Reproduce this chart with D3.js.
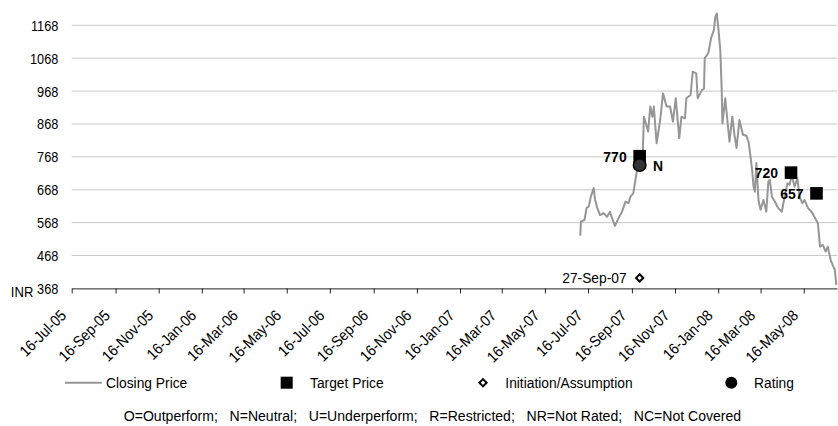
<!DOCTYPE html>
<html>
<head>
<meta charset="utf-8">
<script src="https://cdn.jsdelivr.net/npm/d3@7"></script>
<style>
  html, body { margin: 0; padding: 0; background: #fff; }
  svg { display: block; }
  text { font-family: "Liberation Sans", Arial, sans-serif; fill: #000; }
</style>
</head>
<body>
<svg id="chart" width="838" height="426"></svg>
<script>
// ---- data ----
const priceDates = [
  "2007-07-05","2007-07-06","2007-07-11","2007-07-14","2007-07-17","2007-07-20","2007-07-24","2007-07-26","2007-07-29",
  "2007-08-02","2007-08-07","2007-08-12","2007-08-16","2007-08-20","2007-08-23","2007-08-28",
  "2007-09-02","2007-09-07","2007-09-11","2007-09-14","2007-09-18","2007-09-21","2007-09-24","2007-09-27",
  "2007-10-01","2007-10-02","2007-10-03","2007-10-06","2007-10-09","2007-10-12","2007-10-15","2007-10-17","2007-10-21","2007-10-26","2007-10-30",
  "2007-11-04","2007-11-09","2007-11-13","2007-11-17","2007-11-22","2007-11-25","2007-11-30",
  "2007-12-02","2007-12-08","2007-12-11","2007-12-16","2007-12-18","2007-12-24","2007-12-27","2007-12-28",
  "2008-01-02","2008-01-06","2008-01-10","2008-01-12","2008-01-14","2008-01-16","2008-01-19","2008-01-21","2008-01-22","2008-01-26","2008-01-28",
  "2008-02-01","2008-02-05","2008-02-08","2008-02-11","2008-02-15","2008-02-20","2008-02-25","2008-02-28",
  "2008-03-02","2008-03-04","2008-03-06","2008-03-08","2008-03-10","2008-03-13","2008-03-16","2008-03-20","2008-03-24","2008-03-27","2008-03-29",
  "2008-04-01","2008-04-05","2008-04-10","2008-04-15","2008-04-19","2008-04-23","2008-04-26","2008-04-29",
  "2008-05-03","2008-05-07","2008-05-10","2008-05-14","2008-05-17","2008-05-22","2008-05-27","2008-05-31",
  "2008-06-05","2008-06-08","2008-06-12","2008-06-16","2008-06-19","2008-06-23","2008-06-26","2008-06-29","2008-07-01"
];
const priceValues = [
  528,571,576,613,617,647,673,637,613,
  591,597,586,601,576,558,581,
  601,632,627,647,657,698,738,743,
  753,819,890,868,845,921,890,921,809,880,961,
  921,921,875,946,825,890,885,
  946,956,1027,1022,946,971,976,1068,
  1083,1129,1154,1194,1204,1164,1093,971,870,946,901,
  814,890,835,795,880,835,832,813,
  764,728,677,662,749,637,607,637,601,693,698,
  647,632,612,601,647,688,683,713,
  677,703,647,627,637,612,601,586,
  566,495,500,480,495,455,439,424,379
];
const targetDates = ["2007-09-27","2008-04-28","2008-06-03"];
const targetValues = [770, 720, 657];
const targetLabels = ["770", "720", "657"];
const ratingDates = ["2007-09-27"];
const ratingValues = [743];
const ratingLabels = ["N"];
const initDates = ["2007-09-27"];
const initValues = [400];
const initLabels = ["27-Sep-07"];
const xTickDates = [
  "2005-07-16","2005-09-16","2005-11-16","2006-01-16","2006-03-16","2006-05-16",
  "2006-07-16","2006-09-16","2006-11-16","2007-01-16","2007-03-16","2007-05-16",
  "2007-07-16","2007-09-16","2007-11-16","2008-01-16","2008-03-16","2008-05-16"
];
const yTicks = [368, 468, 568, 668, 768, 868, 968, 1068, 1168];
const currencyLabel = "INR";
const legendLabels = ["Closing Price", "Target Price", "Initiation/Assumption", "Rating"];
const footnote = "O=Outperform;   N=Neutral;   U=Underperform;   R=Restricted;   NR=Not Rated;   NC=Not Covered";

// ---- layout ----
const parse = d3.utcParse("%Y-%m-%d");
const fmt = d3.utcFormat("%d-%b-%y");
const svg = d3.select("#chart");
const plotL = 71.7, plotR = 837, plotT = 25.3, plotB = 288.4;
const FS = 15.5;

// narrow-font emulation: compress each text horizontally
function squeeze(sel, f) {
  sel.each(function () {
    const w = this.getComputedTextLength();
    this.setAttribute("textLength", (w * f).toFixed(2));
    this.setAttribute("lengthAdjust", "spacingAndGlyphs");
  });
}

const x = d3.scaleUtc()
  .domain([parse("2005-07-16"), parse("2008-07-02")])
  .range([plotL, plotR]);
const y = d3.scaleLinear().domain([368, 1168]).range([plotB, plotT]);

// gridlines
svg.append("g").selectAll("line")
  .data(yTicks.filter(v => v !== 368))
  .join("line")
  .attr("x1", plotL).attr("x2", plotR)
  .attr("y1", d => y(d)).attr("y2", d => y(d))
  .attr("stroke", "#c8c8c8").attr("stroke-width", 1);

// y labels
const yg = svg.append("g").attr("transform", `translate(${plotL},0)`)
  .call(d3.axisLeft(y).tickValues(yTicks).tickSize(0).tickPadding(13.4).tickFormat(d3.format("d")));
yg.select(".domain").remove();
yg.selectAll("text").attr("font-size", FS).attr("fill", "#000")
  .style("font-family", '"Liberation Sans", Arial, sans-serif');
squeeze(yg.selectAll("text"), 0.82);
squeeze(svg.append("text").attr("x", 33.3).attr("y", plotB + 8.2)
  .attr("text-anchor", "end").attr("font-size", FS).text(currencyLabel), 0.84);

// x axis
const xg = svg.append("g").attr("transform", `translate(0,${plotB})`)
  .call(d3.axisBottom(x).tickValues(xTickDates.map(parse)).tickSizeInner(5).tickSizeOuter(0).tickFormat(fmt));
xg.select(".domain").attr("stroke", "#222");
xg.selectAll(".tick line").attr("stroke", "#222");
xg.selectAll("text")
  .attr("font-size", FS).attr("fill", "#000")
  .style("font-family", '"Liberation Sans", Arial, sans-serif')
  .attr("text-anchor", "end")
  .attr("y", 0).attr("dy", 0)
  .attr("transform", "translate(-5,28) rotate(-45)");
squeeze(xg.selectAll("text"), 0.9);

// price line
const pts = priceDates.map((d, i) => [parse(d), priceValues[i]]);
svg.append("path").datum(pts)
  .attr("fill", "none").attr("stroke", "#969696").attr("stroke-width", 2)
  .attr("stroke-linejoin", "round")
  .attr("d", d3.line().x(d => x(d[0])).y(d => y(d[1])));

// target squares
const tg = svg.append("g");
targetDates.forEach((d, i) => {
  const cx = x(parse(d)), cy = y(targetValues[i]);
  tg.append("rect").attr("x", cx - 6.3).attr("y", cy - 6.3).attr("width", 12.6).attr("height", 12.6).attr("fill", "#000");
  squeeze(tg.append("text").attr("x", cx - 13).attr("y", cy).attr("dy", "0.36em")
    .attr("text-anchor", "end").attr("font-size", FS).attr("font-weight", "bold").text(targetLabels[i]), 0.9);
});

// rating
ratingDates.forEach((d, i) => {
  const cx = x(parse(d)), cy = y(ratingValues[i]);
  svg.append("circle").attr("cx", cx).attr("cy", cy).attr("r", 6.3)
    .attr("fill", "#333").attr("stroke", "#000").attr("stroke-width", 1.5);
  squeeze(svg.append("text").attr("x", cx + 13.4).attr("y", cy).attr("dy", "0.36em")
    .attr("font-size", FS).attr("font-weight", "bold").text(ratingLabels[i]), 0.9);
});

// initiation
const diamond = d3.symbol().type(d3.symbolSquare).size(26);
initDates.forEach((d, i) => {
  const cx = x(parse(d)), cy = y(initValues[i]);
  svg.append("path").attr("d", diamond())
    .attr("transform", `translate(${cx},${cy}) rotate(45)`)
    .attr("fill", "#fff").attr("stroke", "#000").attr("stroke-width", 2);
  squeeze(svg.append("text").attr("x", cx - 13).attr("y", cy).attr("dy", "0.36em")
    .attr("text-anchor", "end").attr("font-size", FS).text(initLabels[i]), 0.89);
});

// legend
const ly = 382.7;
const lg = svg.append("g");
lg.append("line").attr("x1", 65).attr("x2", 101.7).attr("y1", ly).attr("y2", ly)
  .attr("stroke", "#969696").attr("stroke-width", 2);
lg.append("text").attr("x", 106).attr("y", ly).text(legendLabels[0]);
lg.append("rect").attr("x", 286.7 - 6).attr("y", ly - 6).attr("width", 12).attr("height", 12).attr("fill", "#000");
lg.append("text").attr("x", 310).attr("y", ly).text(legendLabels[1]);
lg.append("path").attr("d", diamond()).attr("transform", `translate(483,${ly}) rotate(45)`)
  .attr("fill", "#fff").attr("stroke", "#000").attr("stroke-width", 2);
lg.append("text").attr("x", 505.3).attr("y", ly).text(legendLabels[2]);
lg.append("circle").attr("cx", 731.3).attr("cy", ly).attr("r", 6).attr("fill", "#000");
lg.append("text").attr("x", 754).attr("y", ly).text(legendLabels[3]);
lg.selectAll("text").attr("dy", "0.36em").attr("font-size", FS);
squeeze(lg.selectAll("text"), 0.89);

squeeze(svg.append("text").attr("x", 432.5).attr("y", 415).attr("dy", "0.36em")
  .attr("text-anchor", "middle").attr("font-size", FS).style("white-space", "pre")
  .text(footnote), 0.906);
</script>
</body>
</html>
